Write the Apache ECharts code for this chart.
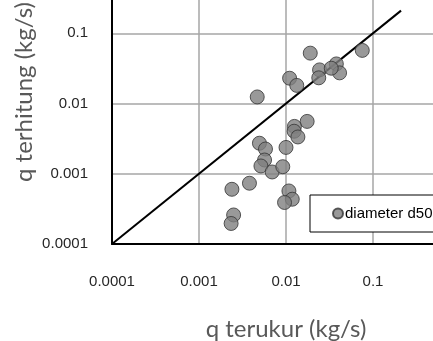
<!DOCTYPE html>
<html>
<head>
<meta charset="utf-8">
<script src="https://cdn.jsdelivr.net/npm/echarts@6/dist/echarts.min.js"></script>
<style>
  html, body { margin: 0; padding: 0; background: #fff; }
  #chart { width: 433px; height: 341px; }
</style>
</head>
<body>
<div id="chart"></div>
<script>
// measured vs computed sediment discharge (kg/s)
var qMeasured = [0.0190, 0.0753, 0.0243, 0.0379, 0.0413, 0.0331, 0.0238, 0.0110, 0.0133, 0.00467,
                 0.0175, 0.0125, 0.0124, 0.0137, 0.0100, 0.00495, 0.00581, 0.00567, 0.00515, 0.00693,
                 0.00918, 0.00380, 0.00239, 0.0108, 0.0118, 0.00962, 0.00250, 0.00234];
var qComputed = [0.0521, 0.0570, 0.0301, 0.0366, 0.0273, 0.0318, 0.0232, 0.0229, 0.0181, 0.0124,
                 0.00556, 0.00472, 0.00403, 0.00334, 0.00237, 0.00272, 0.00225, 0.00157, 0.00129, 0.00106,
                 0.00126, 0.000733, 0.000601, 0.000569, 0.000434, 0.000390, 0.000259, 0.000196];
// 1:1 reference line
var lineX = [0.0001, 0.21];
var lineY = [0.0001, 0.21];
var seriesName = 'diameter d50';
var xTitle = 'q terukur (kg/s)';
var yTitle = 'q terhitung (kg/s)';

var tickFont = "'Liberation Sans', Arial, sans-serif";
var titleFont = 'Lato, sans-serif';
var chart = echarts.init(document.getElementById('chart'));

var points = qMeasured.map(function (x, i) { return [x, qComputed[i]]; });
var diag = lineX.map(function (x, i) { return [x, lineY[i]]; });

chart.setOption({
    animation: false,
    grid: { left: 112, right: -27, top: -37, bottom: 97, outerBoundsMode: 'none', containLabel: false },
    xAxis: {
        type: 'log', logBase: 10, min: 0.0001, max: 1,
        axisLine: { lineStyle: { color: '#000', width: 2 } },
        axisTick: { show: false },
        splitLine: { show: true, lineStyle: { color: '#a6a6a6', width: 1.5 } },
        axisLabel: {
            margin: 30, fontFamily: tickFont, fontSize: 15, color: '#262626',
            formatter: function (v) { return String(+v.toPrecision(1)); }
        },
        name: xTitle, nameLocation: 'middle', nameGap: 73,
        nameTextStyle: { fontFamily: titleFont, fontSize: 24, color: '#595959' }
    },
    yAxis: {
        type: 'log', logBase: 10, min: 0.0001, max: 1,
        axisLine: { lineStyle: { color: '#000', width: 2 } },
        axisTick: { show: false },
        splitLine: { show: true, lineStyle: { color: '#a6a6a6', width: 1.5 } },
        axisLabel: {
            margin: 24, fontFamily: tickFont, fontSize: 15, color: '#262626',
            formatter: function (v) { return String(+v.toPrecision(1)); }
        }
    },
    graphic: [{
        type: 'text', x: 24, y: 92, rotation: Math.PI / 2,
        style: {
            text: yTitle, fontFamily: titleFont, fontSize: 24, fill: '#595959',
            textAlign: 'center', textVerticalAlign: 'middle'
        }
    }],
    legend: {
        data: [seriesName], left: 310, top: 195,
        orient: 'vertical',
        backgroundColor: '#fff', borderColor: '#000', borderWidth: 1,
        padding: [11, 40, 11, 22],
        itemWidth: 10, itemHeight: 10, icon: 'circle',
        textStyle: { fontFamily: tickFont, fontSize: 15, color: '#000', padding: [0, 0, 0, -3] }
    },
    series: [{
        name: 'line', type: 'line', data: diag, symbol: 'none',
        lineStyle: { color: '#000', width: 2 }, z: 1
    }, {
        name: seriesName, type: 'scatter', data: points, symbolSize: 14,
        itemStyle: { color: '#7f7f7f', borderColor: '#333', borderWidth: 1 }, z: 3
    }]
});
</script>
</body>
</html>
